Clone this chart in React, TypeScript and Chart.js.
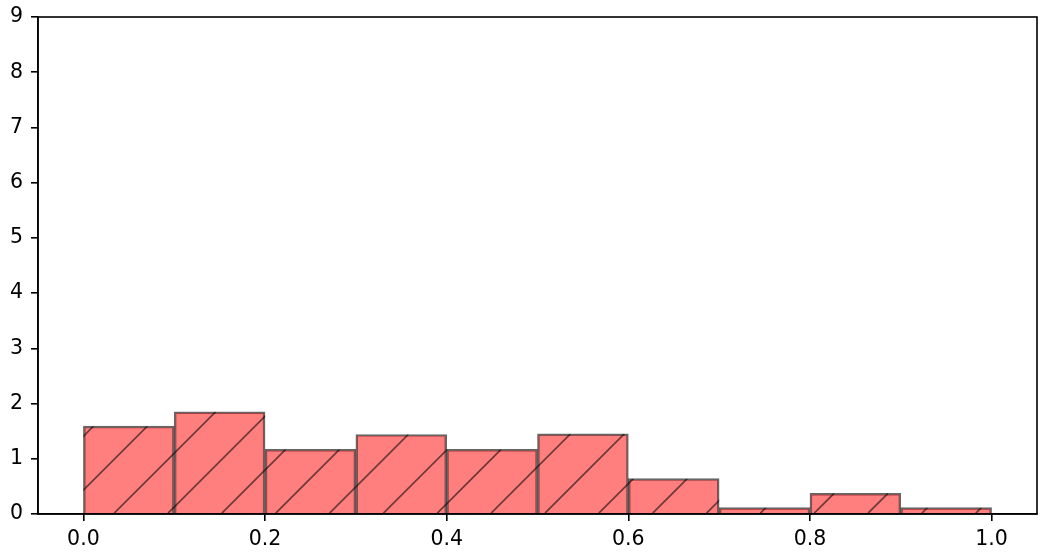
import React, { useEffect, useRef } from "react";
import { Chart, registerables } from "chart.js";

Chart.register(...registerables);

const binEdges = [0, 0.1, 0.2, 0.3, 0.4, 0.5, 0.6, 0.7, 0.8, 0.9, 1.0];
const densities = [1.59, 1.85, 1.17, 1.44, 1.17, 1.45, 0.64, 0.115, 0.375, 0.115];
const xTicks = [0, 0.2, 0.4, 0.6, 0.8, 1.0];
const yTicks = [0, 1, 2, 3, 4, 5, 6, 7, 8, 9];

const HATCH_SPACING = 53.85;
const HATCH_PHASE = 519.7;

const hatchPlugin = {
  id: "hatch",
  afterDatasetsDraw(chart: any) {
    const ctx = chart.ctx;
    const meta = chart.getDatasetMeta(0);
    ctx.save();
    meta.data.forEach((bar: any) => {
      const { x, y, base, width } = bar.getProps(["x", "y", "base", "width"], true);
      const left = x - width / 2;
      const right = x + width / 2;
      const top = Math.min(y, base);
      const bottom = Math.max(y, base);
      ctx.save();
      ctx.beginPath();
      ctx.rect(left, top, right - left, bottom - top);
      ctx.clip();
      ctx.strokeStyle = "rgba(0,0,0,0.55)";
      ctx.lineWidth = 1.8;
      const start = Math.floor((left + top - HATCH_PHASE) / HATCH_SPACING) * HATCH_SPACING + HATCH_PHASE;
      ctx.beginPath();
      for (let c = start; c <= right + bottom + HATCH_SPACING; c += HATCH_SPACING) {
        ctx.moveTo(c - bottom, bottom);
        ctx.lineTo(c - top, top);
      }
      ctx.stroke();
      ctx.restore();
    });
    ctx.restore();
  },
  afterDraw(chart: any) {
    const { ctx, chartArea } = chart;
    ctx.save();
    ctx.strokeStyle = "#000";
    ctx.lineWidth = 1.6;
    ctx.strokeRect(chartArea.left, chartArea.top, chartArea.right - chartArea.left, chartArea.bottom - chartArea.top);
    ctx.restore();
  },
};

export default function App() {
  const canvasRef = useRef<HTMLCanvasElement | null>(null);

  useEffect(() => {
    document.body.style.margin = "0";
    const points = densities.map((d, i) => ({ x: (binEdges[i] + binEdges[i + 1]) / 2, y: d }));
    const tickFont = { family: "DejaVu Sans", size: 20.5 };
    const chart = new Chart(canvasRef.current as HTMLCanvasElement, {
      type: "bar",
      data: {
        datasets: [
          {
            data: points as any,
            backgroundColor: "rgba(255,0,0,0.5)",
            borderColor: "rgba(0,0,0,0.6)",
            borderWidth: 1.8,
            barPercentage: 1,
            categoryPercentage: 1,
          },
        ],
      },
      options: {
        animation: false,
        responsive: false,
        maintainAspectRatio: false,
        layout: { padding: { left: 0, right: 13, top: 17, bottom: 0 } },
        plugins: { legend: { display: false }, tooltip: { enabled: false } },
        scales: {
          x: {
            type: "linear",
            min: -0.05,
            max: 1.05,
            offset: false,
            afterBuildTicks: (scale: any) => {
              scale.ticks = xTicks.map((v) => ({ value: v }));
            },
            afterFit: (scale: any) => {
              scale.height = 43;
              scale.paddingLeft = 0;
              scale.paddingRight = 0;
            },
            ticks: {
              autoSkip: false,
              maxRotation: 0,
              padding: 6,
              color: "#000",
              font: tickFont,
              callback: (v: any) => Number(v).toFixed(1),
            },
            grid: { display: true, offset: false, drawOnChartArea: false, drawTicks: true, tickLength: 7, color: "#000", lineWidth: 1.6 },
            border: { display: true, color: "#000", width: 1.6 },
          },
          y: {
            type: "linear",
            min: 0,
            max: 9,
            afterBuildTicks: (scale: any) => {
              scale.ticks = yTicks.map((v) => ({ value: v }));
            },
            afterFit: (scale: any) => {
              scale.width = 38;
              scale.paddingTop = 0;
              scale.paddingBottom = 0;
            },
            ticks: {
              autoSkip: false,
              padding: 8,
              color: "#000",
              font: tickFont,
              callback: (v: any) => String(v),
            },
            grid: { display: true, offset: false, drawOnChartArea: false, drawTicks: true, tickLength: 7, color: "#000", lineWidth: 1.6 },
            border: { display: true, color: "#000", width: 1.6 },
          },
        },
      },
      plugins: [hatchPlugin],
    });
    return () => chart.destroy();
  }, []);

  return (
    <div style={{ width: 1050, height: 557 }}>
      <canvas ref={canvasRef} width={1050} height={557} style={{ display: "block" }} />
    </div>
  );
}
